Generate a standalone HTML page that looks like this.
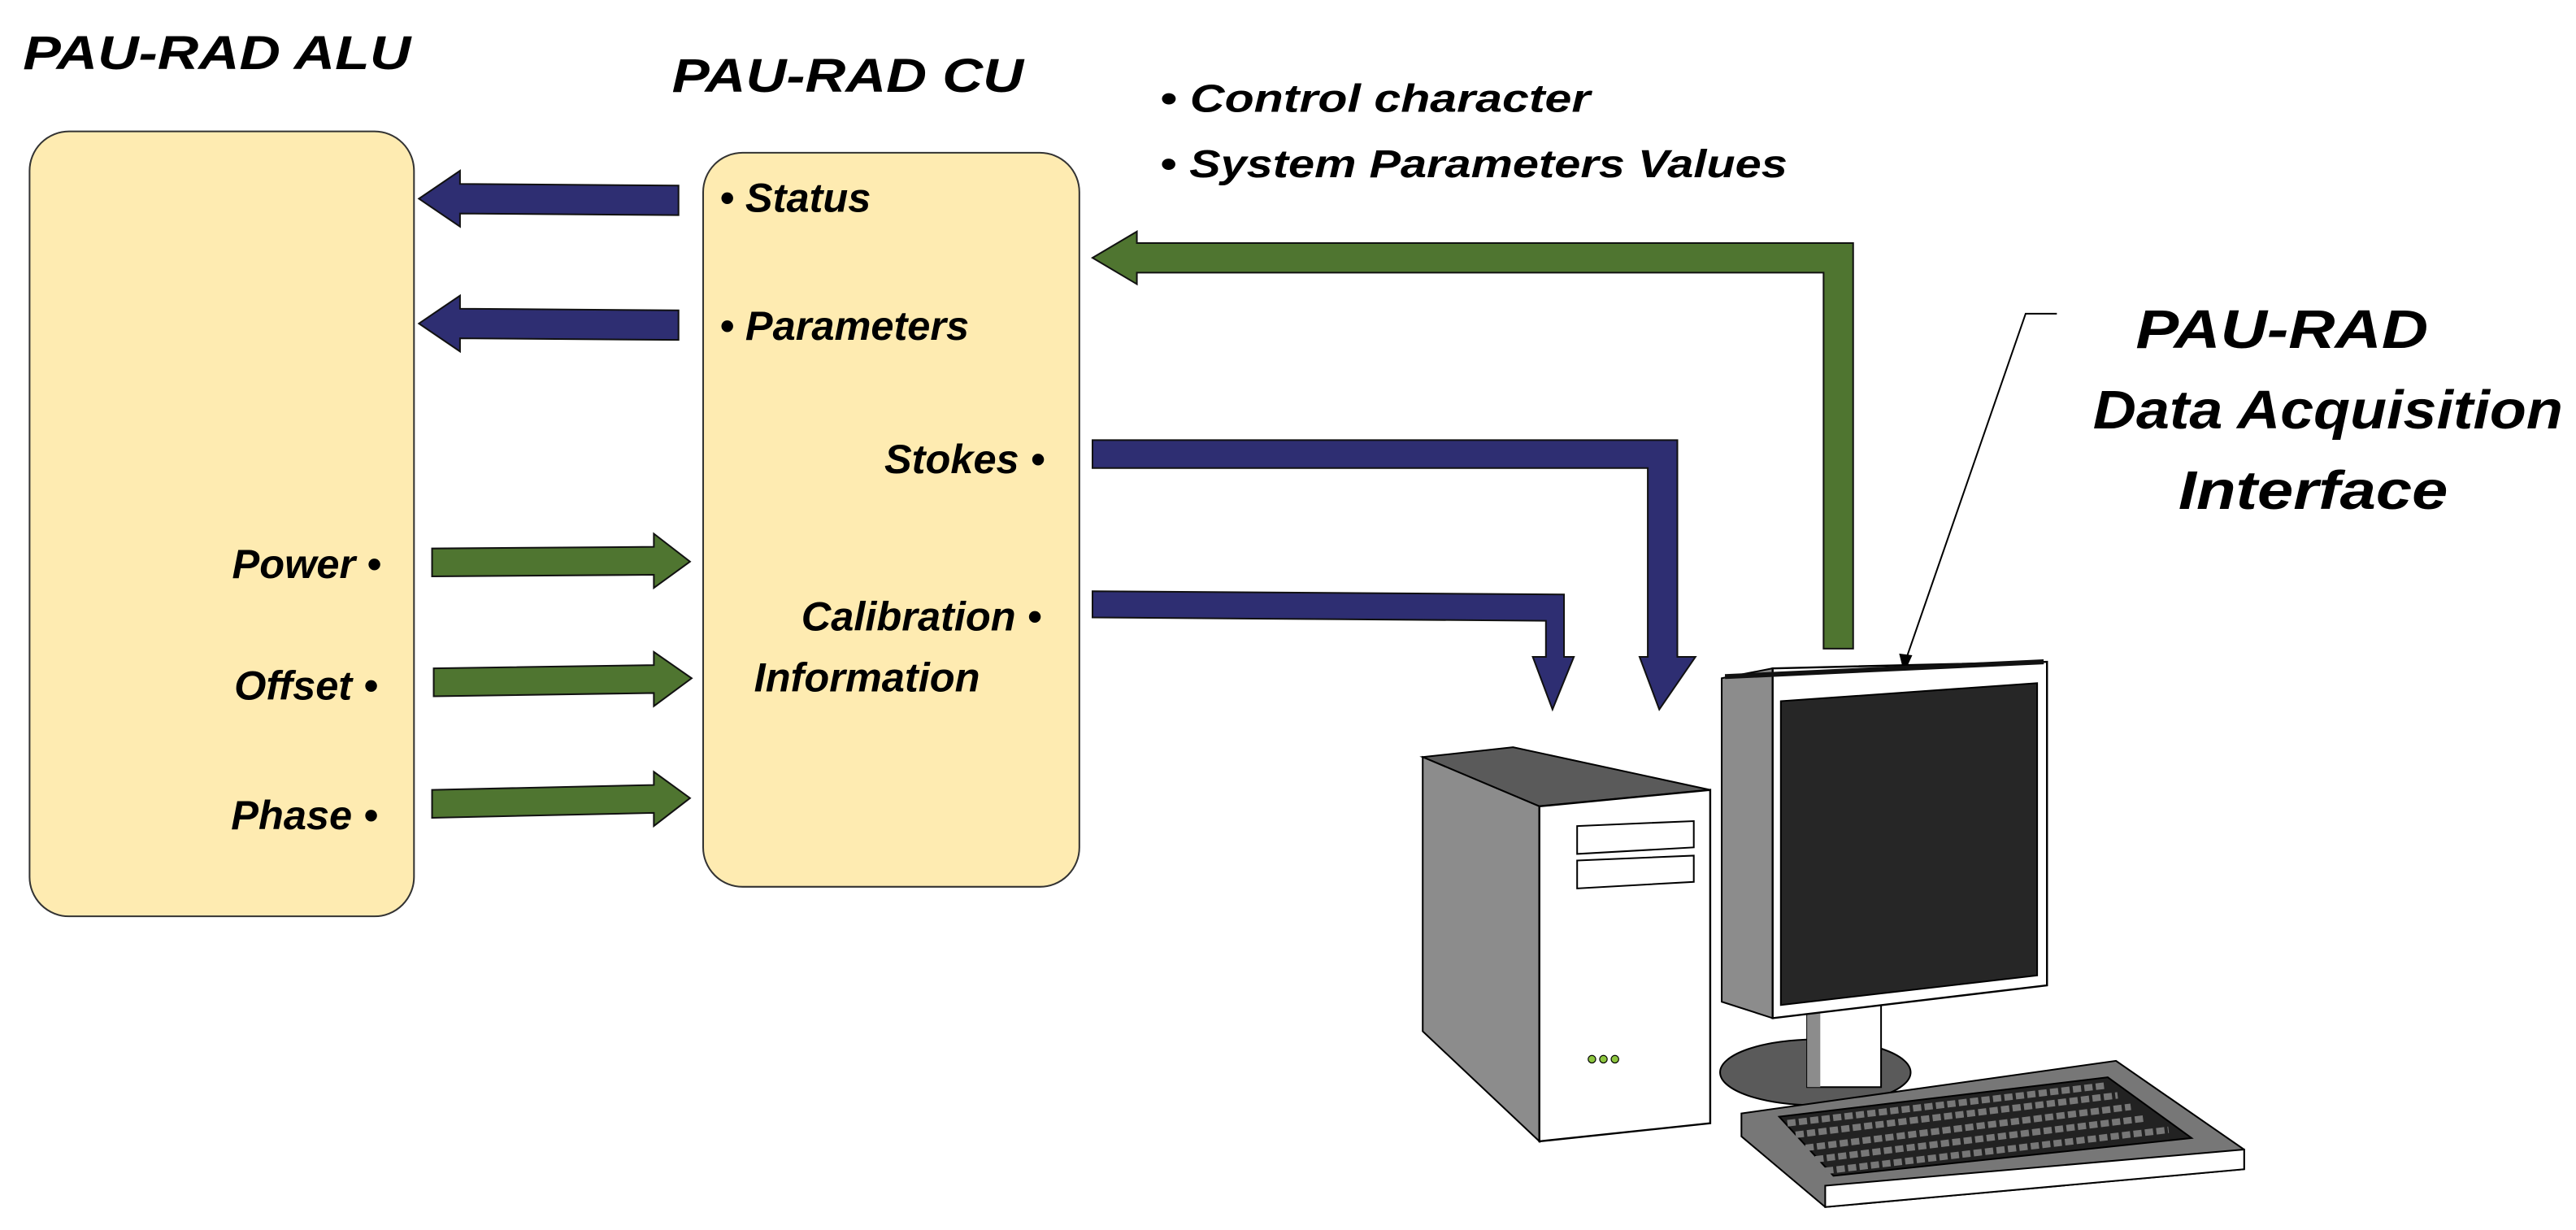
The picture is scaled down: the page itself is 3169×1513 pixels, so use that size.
<!DOCTYPE html>
<html><head><meta charset="utf-8"><style>
html,body{margin:0;padding:0;background:#fff;}
svg{display:block;}
text{font-family:"Liberation Sans",sans-serif;font-weight:bold;font-style:italic;fill:#000;}
</style></head><body>
<svg width="3169" height="1513" viewBox="0 0 1568 749" preserveAspectRatio="none" xmlns="http://www.w3.org/2000/svg">
<text x="14" y="42" font-size="29" textLength="236" lengthAdjust="spacingAndGlyphs">PAU-RAD ALU</text>
<text x="409" y="56" font-size="29" textLength="214" lengthAdjust="spacingAndGlyphs">PAU-RAD CU</text>

<rect x="18" y="80" width="234" height="478" rx="24" fill="#feebb1" stroke="#333" stroke-width="1"/>
<rect x="428" y="93" width="229" height="447" rx="24" fill="#feebb1" stroke="#333" stroke-width="1"/>

<polygon points="413,113 280,112 280,104 255,121 280,138 280,130 413,131" fill="#2e2e72" stroke="#111" stroke-width="1"/>
<polygon points="413,189 280,188 280,180 255,197 280,214 280,206 413,207" fill="#2e2e72" stroke="#111" stroke-width="1"/>

<polygon points="263,334 398,333 398,325 420,342 398,358 398,350 263,351" fill="#4f7530" stroke="#111" stroke-width="1"/>
<polygon points="264,407 398,405 398,397 421,413 398,430 398,422 264,424" fill="#4f7530" stroke="#111" stroke-width="1"/>
<polygon points="263,481 398,478 398,470 420,486 398,503 398,495 263,498" fill="#4f7530" stroke="#111" stroke-width="1"/>

<text x="438" y="129" font-size="25">• Status</text>
<text x="438" y="207" font-size="25">• Parameters</text>
<text x="636" y="288" font-size="25" text-anchor="end">Stokes •</text>
<text x="634" y="384" font-size="25" text-anchor="end">Calibration •</text>
<text x="459" y="421" font-size="25">Information</text>
<text x="232" y="352" font-size="25" text-anchor="end">Power •</text>
<text x="230" y="426" font-size="25" text-anchor="end">Offset •</text>
<text x="230" y="505" font-size="25" text-anchor="end">Phase •</text>

<text x="706" y="68" font-size="24" textLength="262" lengthAdjust="spacingAndGlyphs">• Control character</text>
<text x="706" y="108" font-size="24" textLength="382" lengthAdjust="spacingAndGlyphs">• System Parameters Values</text>

<polygon points="1128,395 1128,148 692,148 692,141 665,157 692,173 692,166 1110,166 1110,395" fill="#4f7530" stroke="#111" stroke-width="1"/>

<polygon points="665,268 1021,268 1021,400 1032,400 1010,432 998,400 1003,400 1003,285 665,285" fill="#2e2e72" stroke="#111" stroke-width="1"/>
<polygon points="665,360 952,362 952,400 958,400 945,432 933,400 941,400 941,378 665,376" fill="#2e2e72" stroke="#111" stroke-width="1"/>

<text x="1300" y="212" font-size="33" textLength="178" lengthAdjust="spacingAndGlyphs">PAU-RAD</text>
<text x="1274" y="261" font-size="33" textLength="286" lengthAdjust="spacingAndGlyphs">Data Acquisition</text>
<text x="1326" y="310" font-size="33" textLength="164" lengthAdjust="spacingAndGlyphs">Interface</text>

<polyline points="1252,191 1233,191 1160,402" fill="none" stroke="#000" stroke-width="1"/>
<polygon points="1156,398 1164,399 1159,410" fill="#000"/>

<!-- tower -->
<polygon points="866,461 921,455 1041,481 937,491" fill="#5a5a5a" stroke="#000" stroke-width="1"/>
<polygon points="866,461 937,491 937,695 866,628" fill="#8c8c8c" stroke="#000" stroke-width="1"/>
<polygon points="937,491 1041,481 1041,684 937,695" fill="#fff" stroke="#000" stroke-width="1.2"/>
<polygon points="960,503 1031,500 1031,516 960,520" fill="#fff" stroke="#000" stroke-width="1"/>
<polygon points="960,524 1031,521 1031,537 960,541" fill="#fff" stroke="#000" stroke-width="1"/>
<circle cx="969" cy="645" r="2.3" fill="#8dc63f" stroke="#000" stroke-width="0.6"/>
<circle cx="976" cy="645" r="2.3" fill="#8dc63f" stroke="#000" stroke-width="0.6"/>
<circle cx="983" cy="645" r="2.3" fill="#8dc63f" stroke="#000" stroke-width="0.6"/>

<ellipse cx="1105" cy="653" rx="58" ry="20" fill="#5a5a5a" stroke="#000" stroke-width="1"/>
<rect x="1100" y="610" width="45" height="52" fill="#fff" stroke="#000" stroke-width="1"/>
<rect x="1100" y="610" width="8" height="52" fill="#8c8c8c"/>
<polygon points="1048,413 1079,407 1079,620 1048,610" fill="#8c8c8c" stroke="#000" stroke-width="1"/>
<polygon points="1079,407 1246,403 1246,600 1079,620" fill="#fff" stroke="#000" stroke-width="1.2"/>
<line x1="1050" y1="412" x2="1244" y2="403" stroke="#111" stroke-width="3"/>
<polygon points="1084,427 1240,416 1240,594 1084,612" fill="#262626" stroke="#000" stroke-width="1"/>
<!-- keyboard -->
<polygon points="1060,678 1288,646 1366,700 1366,712 1111,735 1060,692" fill="#777" stroke="#000" stroke-width="1"/>
<polygon points="1111,722 1366,700 1366,712 1111,735" fill="#fff" stroke="#000" stroke-width="1"/>
<polygon points="1083,680 1283,656 1334,693 1116,716" fill="#222" stroke="#000" stroke-width="1"/>
<path d="M1088,684 L1282,661 M1093,691 L1289,667 M1099,699 L1297,674 M1105,706 L1306,681 M1111,713 L1320,688" stroke="#777" stroke-width="4" stroke-dasharray="5,2" fill="none"/>
</svg>
</body></html>
